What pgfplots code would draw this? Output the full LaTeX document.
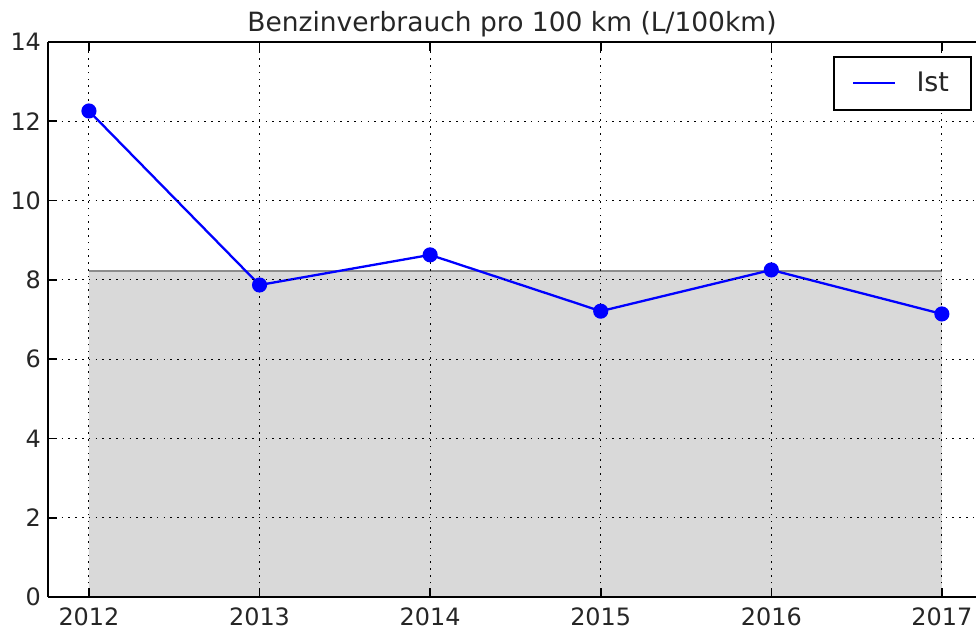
\documentclass[border=0pt]{standalone}
\usepackage{fontspec}
\setmainfont{DejaVu Sans}
\usepackage{pgfplots}
\pgfplotsset{compat=1.18}
\begin{document}
\begin{tikzpicture}
\begin{axis}[
  scale only axis,
  width=464bp, height=277.5bp,
  xmin=2011.76, xmax=2017.2,
  ymin=0, ymax=14,
  xtick={2012,2013,2014,2015,2016,2017},
  ytick={0,2,4,6,8,10,12,14},
  axis x line*=box, axis y line*=left,
  axis line style={line width=1bp, black},
  tick style={line width=0.8bp, black},
  tick align=inside,
  major tick length=4.5bp,
  /pgf/number format/1000 sep={},
  /pgf/number format/assume math mode=true,
  tick label style={font=\fontsize{12}{14}\selectfont, text=black!85},
  xticklabel style={yshift=-2bp},
  grid=major,
  grid style={line width=0.5bp, black, dash pattern=on 0.8bp off 2.6bp},
  axis on top,
  title={Benzinverbrauch pro 100 km (L/100km)},
  title style={font=\fontsize{13.3}{16}\selectfont, text=black!85, at={(rel axis cs:0.5,1)}, anchor=base, yshift=-0.5bp},
  legend style={at={(rel axis cs:1,1)}, anchor=north east, xshift=-2bp, yshift=-7bp,
    draw=black, line width=1bp, font=\fontsize{13.5}{16}\selectfont, text=black!85,
    inner xsep=9bp, inner ysep=5.5bp},
  legend cell align=left,
  legend image code/.code={\draw[#1, mark=none] (0bp,0bp) -- (21bp,0bp);},
]
\addplot[fill=black!15, draw=none, forget plot] coordinates {(2012,0) (2012,8.22) (2017,8.22) (2017,0)} \closedcycle;
\addplot[black!45, line width=1bp, forget plot] coordinates {(2012,8.22) (2017,8.22)};
\addplot[blue, line width=1.15bp, mark=*, mark size=3.2bp, mark options={fill=blue, draw=blue}]
  coordinates {(2012,12.26) (2013,7.87) (2014,8.63) (2015,7.21) (2016,8.25) (2017,7.14)};
\addlegendentry{\hspace{8bp}Ist}
\end{axis}
\pgfresetboundingbox
\path ([xshift=-24bp,yshift=-16bp]current axis.south west) rectangle ([yshift=21bp]current axis.north east);
\end{tikzpicture}
\end{document}
